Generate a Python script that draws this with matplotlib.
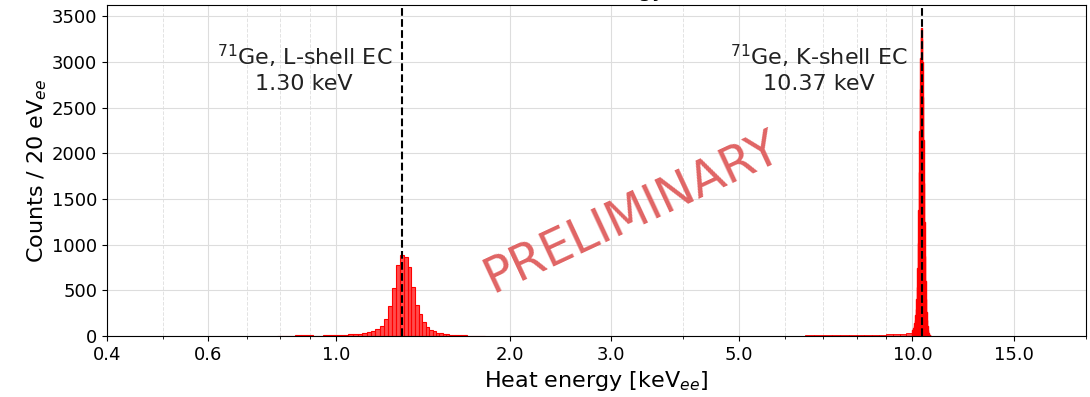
import matplotlib
matplotlib.use("Agg")
import matplotlib.pyplot as plt
import numpy as np
from matplotlib.ticker import FixedLocator, FixedFormatter, LogLocator, NullFormatter

# L-shell peak, 20 eV bins centred on 0.80 ... 1.80 keV
l_centers = np.round(np.arange(0.80, 1.8001, 0.02), 2)
l_counts = [0, 0, 0, 8, 12, 6, 0, 3, 10, 12,
            14, 10, 16, 20, 22, 25, 30, 40, 55, 75,
            110, 190, 325, 530, 780, 885, 860, 760, 540, 340,
            245, 150, 95, 62, 50, 38, 30, 24, 18, 15,
            12, 10, 8, 6, 8, 5, 3, 2, 0, 0, 0]

# K-shell peak, 20 eV bins centred on 10.01 ... 10.77 keV
k_centers = np.round(np.arange(10.01, 10.7701, 0.02), 2)
k_counts = [62, 75, 90, 110, 140, 180, 230, 300, 400, 540,
            740, 1020, 1380, 1800, 2250, 2700, 3050, 3280, 3370, 3250,
            3000, 2620, 2150, 1680, 1250, 880, 600, 400, 260, 170,
            110, 70, 45, 28, 17, 10, 6, 3, 2]

# low energy tail below the K peak (counts per 20 eV, averaged over 0.25 keV)
tail_edges = [6.25, 6.5, 6.75, 7.0, 7.25, 7.5, 7.75, 8.0, 8.25, 8.5,
              8.75, 9.0, 9.25, 9.5, 9.75, 10.0]
tail_counts = [4, 6, 8, 9, 10, 10, 11, 12, 13, 14, 15, 17, 19, 24, 35]

lines_e = [1.30, 10.37]
line_labels = ["$^{71}$Ge, L-shell EC\n1.30 keV", "$^{71}$Ge, K-shell EC\n10.37 keV"]
label_x = [0.88, 6.87]

xticks = [0.4, 0.6, 1.0, 2.0, 3.0, 5.0, 10.0, 15.0]
yticks = [0, 500, 1000, 1500, 2000, 2500, 3000, 3500]

fig = plt.figure(figsize=(10.9, 3.97), dpi=100)
ax = fig.add_axes([0.098, 0.1537, 0.8983, 0.8325])

face = (1, 0, 0, 0.7)
l_edges = np.append(l_centers - 0.01, l_centers[-1] + 0.01)
k_edges = np.append(k_centers - 0.01, k_centers[-1] + 0.01)
ax.hist(l_centers, bins=l_edges, weights=l_counts, facecolor=face, edgecolor="red", linewidth=0.8)
ax.hist(k_centers, bins=k_edges, weights=k_counts, facecolor="red", edgecolor="red", linewidth=1.0)
tail_mid = [(a + b) / 2 for a, b in zip(tail_edges[:-1], tail_edges[1:])]
ax.hist(tail_mid, bins=tail_edges, weights=tail_counts, facecolor=face, edgecolor="red", linewidth=0.6)

for e, txt, tx in zip(lines_e, line_labels, label_x):
    ax.axvline(e, color="black", linestyle="--", linewidth=1.5, zorder=3)
    ax.text(tx, 2930, txt, ha="center", va="center", fontsize=16, color="#222222")

ax.text(0.536, 0.375, "PRELIMINARY", transform=ax.transAxes, rotation=25,
        fontsize=35, color="#e06464", ha="center", va="center")

ax.set_xscale("log")
ax.set_xlim(0.4, 20)
ax.set_ylim(0, 3620)
ax.xaxis.set_major_locator(FixedLocator(xticks))
ax.xaxis.set_major_formatter(FixedFormatter(["%.1f" % t for t in xticks]))
ax.xaxis.set_minor_locator(LogLocator(base=10, subs=np.arange(1, 10)))
ax.xaxis.set_minor_formatter(NullFormatter())
ax.set_yticks(yticks)
ax.tick_params(labelsize=13)

ax.grid(True, which="major", color="#dddddd", linewidth=0.8)
ax.grid(True, which="minor", axis="x", color="#e3e3e3", linestyle="--", linewidth=0.7)
ax.set_axisbelow(True)

ax.set_xlabel("Heat energy [keV$_{ee}$]", fontsize=16)
ax.set_ylabel("Counts / 20 eV$_{ee}$", fontsize=16, labelpad=2)
ax.set_title("Heat energy", fontsize=16)

fig.savefig("out.png", dpi=100)
